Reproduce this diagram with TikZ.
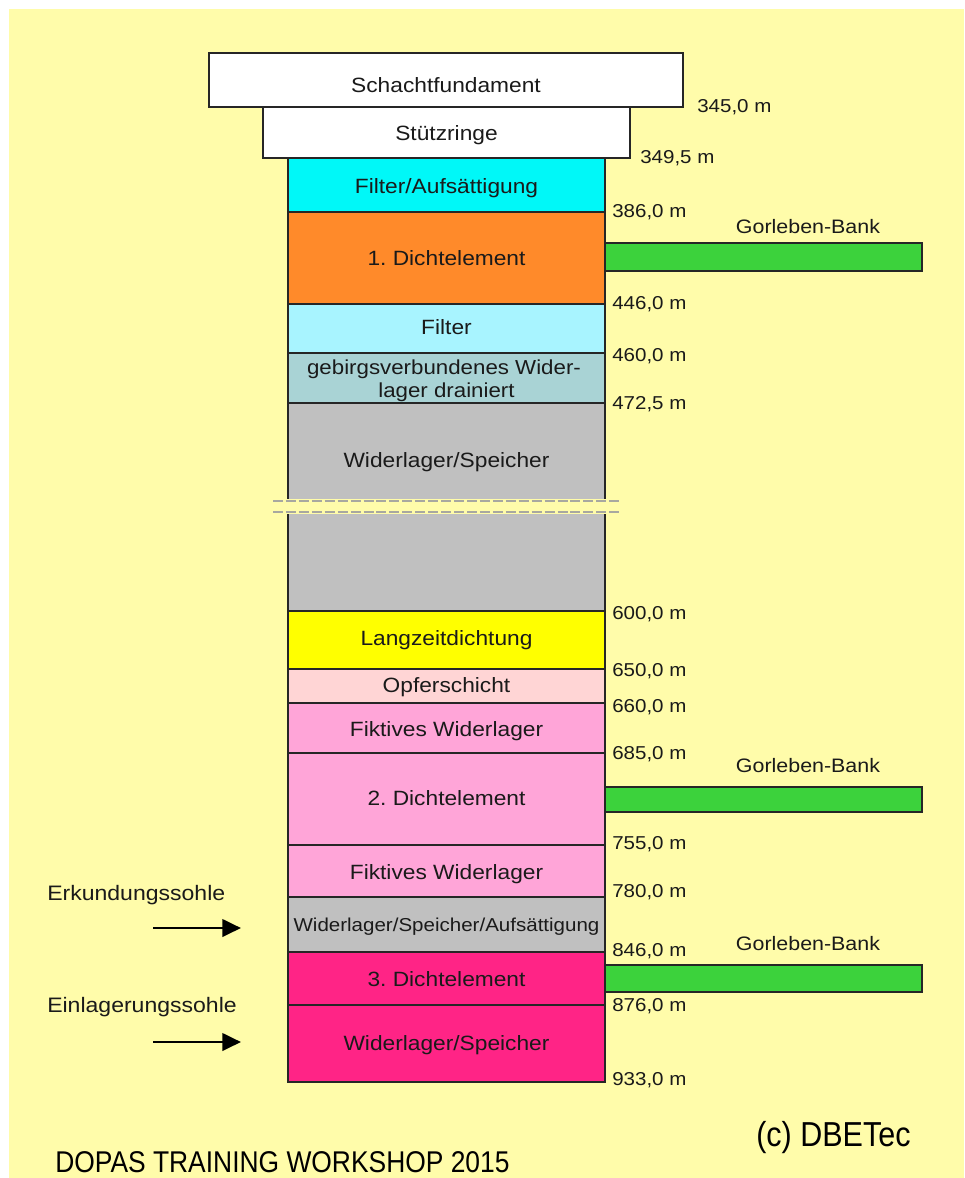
\documentclass[tikz,border=0pt]{standalone}
\usepackage{fontspec}
\setmainfont{Liberation Sans}
\newfontfamily\widef[FakeStretch=1.1]{Liberation Sans}
\newfontfamily\narrowf[FakeStretch=0.88]{Liberation Sans}
\usetikzlibrary{fit,arrows.meta}
\definecolor{bgyellow}{HTML}{FFFCAA}
\definecolor{edge}{HTML}{262626}
\definecolor{ink}{HTML}{1A1A1A}
\definecolor{cyanA}{HTML}{00F8F8}
\definecolor{orangeD}{HTML}{FF8A2A}
\definecolor{lightcyan}{HTML}{A8F4FF}
\definecolor{tealgrey}{HTML}{A9D3D5}
\definecolor{greyW}{HTML}{C0C0C0}
\definecolor{yellowL}{HTML}{FFFF00}
\definecolor{opfer}{HTML}{FFD5D5}
\definecolor{pinkF}{HTML}{FFA5D8}
\definecolor{magentaD}{HTML}{FF2486}
\definecolor{bankgreen}{HTML}{3CD23C}
\definecolor{breakgrey}{HTML}{A8A8A0}
\frenchspacing
\begin{document}
\begin{tikzpicture}[x=0.75pt,y=-0.75pt,
  layer/.style={draw=edge, line width=1.5pt, inner sep=0pt},
  layertext/.style={text=ink, inner sep=0pt, align=center, text height=11.1pt, text depth=0pt,
    font=\widef\fontsize{15.5pt}{18pt}\selectfont},
  depth/.style={anchor=west, inner sep=0pt, text=ink, text height=10pt, text depth=0pt,
    font=\widef\fontsize{14pt}{16pt}\selectfont},
  bank/.style={draw=edge, line width=1.5pt, fill=bankgreen, inner sep=0pt},
  banklabel/.style={text=ink, inner sep=0pt, text height=10.4pt, text depth=0pt,
    font=\widef\fontsize{14.6pt}{16pt}\selectfont},
  level/.style={anchor=west, inner sep=0pt, text=ink, text height=11.2pt, text depth=0pt,
    font=\widef\fontsize{15.7pt}{18pt}\selectfont},
  levelarrow/.style={line width=2.2pt, draw=black, -{Triangle[length=14pt,width=13pt]}},
  footer/.style={anchor=west, inner sep=0pt, text=black},
]
\useasboundingbox (0,0) rectangle (964,1178);
\fill[bgyellow] (9,9) rectangle (964,1178);

% top boxes
\node[layer, fill=white, fit={(209,53) (683,107)}] (fund) {};
\node[layer, fill=white, fit={(263,107) (630,158)}] (ring) {};

% column layers
\node[layer, fill=cyanA, fit={(288,158) (605,212)}] (filA) {};
\node[layer, fill=orangeD, fit={(288,212) (605,304)}] (dicht1) {};
\node[layer, fill=lightcyan, fit={(288,304) (605,353)}] (filter) {};
\node[layer, fill=tealgrey, fit={(288,353) (605,403)}] (gebirg) {};
\node[layer, fill=greyW, fit={(288,403) (605,501)}] (ws1) {};
\node[layer, fill=greyW, fit={(288,512) (605,611)}] (ws2) {};
\node[layer, fill=yellowL, fit={(288,611) (605,669)}] (lzd) {};
\node[layer, fill=opfer, fit={(288,669) (605,703)}] (opf) {};
\node[layer, fill=pinkF, fit={(288,703) (605,753)}] (fik1) {};
\node[layer, fill=pinkF, fit={(288,753) (605,845)}] (dicht2) {};
\node[layer, fill=pinkF, fit={(288,845) (605,897)}] (fik2) {};
\node[layer, fill=greyW, fit={(288,897) (605,952)}] (wsa) {};
\node[layer, fill=magentaD, fit={(288,952) (605,1005)}] (dicht3) {};
\node[layer, fill=magentaD, fit={(288,1005) (605,1082)}] (ws3) {};

% layer texts
\node[layertext] (fundt) at (446,85) {Schachtfundament};
\node[layertext] (ringt) at (446.5,133) {Stützringe};
\node[layertext] (filAt) at (446.5,186) {Filter/Aufsättigung};
\node[layertext] (dicht1t) at (446.5,258) {1. Dichtelement};
\node[layertext] (filtert) at (446.5,327) {Filter};
\node[layertext, font=\widef\fontsize{15.2pt}{18pt}\selectfont] (gebirgt1) at (444,367) {gebirgsverbundenes Wider-};
\node[layertext, font=\widef\fontsize{15.2pt}{18pt}\selectfont] (gebirgt2) at (446.5,390) {lager drainiert};
\node[layertext] (ws1t) at (446.5,460) {Widerlager/Speicher};
\node[layertext] (lzdt) at (446.5,638) {Langzeitdichtung};
\node[layertext] (opft) at (446.5,685) {Opferschicht};
\node[layertext] (fik1t) at (446.5,729) {Fiktives Widerlager};
\node[layertext] (dicht2t) at (446.5,798) {2. Dichtelement};
\node[layertext] (fik2t) at (446.5,872) {Fiktives Widerlager};
\node[layertext, font=\widef\fontsize{14pt}{16pt}\selectfont, text height=10pt] (wsat) at (446.5,925) {Widerlager/Speicher/Aufsättigung};
\node[layertext] (dicht3t) at (446.5,979) {3. Dichtelement};
\node[layertext] (ws3t) at (446.5,1043) {Widerlager/Speicher};

% break marks
\foreach \yy in {501,512} {
  \draw[bgyellow, line width=2.6pt] (273,\yy) -- (620,\yy);
  \draw[breakgrey, line width=2.2pt, dash pattern=on 7.5pt off 2.2pt] (273,\yy) -- (620,\yy);
}

% depth labels
\node[depth] (d1) at (697,106) {345,0 m};
\node[depth] (d2) at (640,157) {349,5 m};
\node[depth] (d3) at (612,211) {386,0 m};
\node[depth] (d4) at (612,303) {446,0 m};
\node[depth] (d5) at (612,355) {460,0 m};
\node[depth] (d6) at (612,403) {472,5 m};
\node[depth] (d7) at (612,613) {600,0 m};
\node[depth] (d8) at (612,670) {650,0 m};
\node[depth] (d9) at (612,706) {660,0 m};
\node[depth] (d10) at (612,753) {685,0 m};
\node[depth] (d11) at (612,843) {755,0 m};
\node[depth] (d12) at (612,891) {780,0 m};
\node[depth] (d13) at (612,950) {846,0 m};
\node[depth] (d14) at (612,1005) {876,0 m};
\node[depth] (d15) at (612,1079) {933,0 m};

% Gorleben banks
\node[bank, fit={(605,243) (922,271)}] (bank1) {};
\node[bank, fit={(605,787) (922,812)}] (bank2) {};
\node[bank, fit={(605,965) (922,992)}] (bank3) {};
\node[banklabel] (bl1) at (808,227) {Gorleben-Bank};
\node[banklabel] (bl2) at (808,766) {Gorleben-Bank};
\node[banklabel] (bl3) at (808,944) {Gorleben-Bank};

% levels
\node[level] (erk) at (47,893) {Erkundungssohle};
\node[level] (einl) at (47,1005) {Einlagerungssohle};
\coordinate (a1s) at (153,928);
\coordinate (a1e) at (241,928);
\coordinate (a2s) at (153,1042);
\coordinate (a2e) at (241,1042);
\draw[levelarrow] (a1s) -- (a1e);
\draw[levelarrow] (a2s) -- (a2e);

% footer
\node[footer, font=\narrowf\fontsize{26pt}{28pt}\selectfont] (copy) at (756,1138) {(c) DBETec};
\node[footer, font=\narrowf\fontsize{22.5pt}{24pt}\selectfont] (dopas) at (55,1162) {DOPAS TRAINING WORKSHOP 2015};
\end{tikzpicture}
\end{document}
